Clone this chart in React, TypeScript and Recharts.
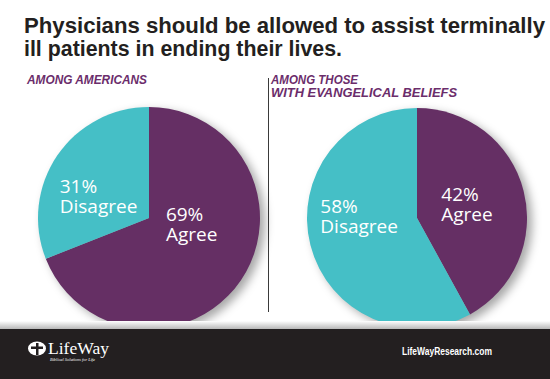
import React from "react";
import { PieChart, Pie, Cell } from "recharts";

const categories = ["Agree", "Disagree"];
const americans = [69, 31];
const evangelicals = [42, 58];

const COLORS = ["#652f64", "#45bfc6"];

const leftData = categories.map((name, i) => ({ name, value: americans[i] }));
const rightData = categories.map((name, i) => ({ name, value: evangelicals[i] }));

const RAD = Math.PI / 180;

const renderLabel = (props: any) => {
  const { cx, cy, midAngle, outerRadius, name, value } = props;
  const r = outerRadius * 0.5;
  const px = cx + r * Math.cos(-midAngle * RAD);
  const py = cy + r * Math.sin(-midAngle * RAD) * 0.45 - 11;
  const w = name.length * 9.6;
  const x = px - w / 2 - 5;
  return (
    <text
      x={x}
      y={py}
      fill="#fff"
      fontFamily="'Open Sans', sans-serif"
      fontSize={19}
      textAnchor="start"
    >
      <tspan x={x} dy={0}>{`${value}%`}</tspan>
      <tspan x={x} dy={20}>{name}</tspan>
    </text>
  );
};

export default function App() {
  return (
    <div
      style={{
        position: "relative",
        width: 550,
        height: 379,
        background: "#fff",
        overflow: "hidden",
      }}
    >
      <style>{`html, body { margin: 0; padding: 0; overflow: hidden; } .recharts-pie { filter: drop-shadow(5px 4px 5px rgba(0,0,0,0.35)); }`}</style>
      <svg
        width={550}
        height={110}
        style={{ position: "absolute", left: 0, top: 0 }}
        fontFamily="'Liberation Sans', Arial, sans-serif"
      >
        <text x={24} y={33} fontSize={22} fontWeight={700} fill="#231f20" textLength={521} lengthAdjust="spacingAndGlyphs">
          Physicians should be allowed to assist terminally
        </text>
        <text x={24} y={56} fontSize={22} fontWeight={700} fill="#231f20" textLength={318} lengthAdjust="spacingAndGlyphs">
          ill patients in ending their lives.
        </text>
        <text x={27} y={84} fontSize={12.5} fontWeight={700} fontStyle="italic" fill="#6b2d6b" textLength={120} lengthAdjust="spacingAndGlyphs">
          AMONG AMERICANS
        </text>
        <text x={271} y={84} fontSize={12.5} fontWeight={700} fontStyle="italic" fill="#6b2d6b" textLength={87} lengthAdjust="spacingAndGlyphs">
          AMONG THOSE
        </text>
        <text x={271} y={97} fontSize={12.5} fontWeight={700} fontStyle="italic" fill="#6b2d6b" textLength={186} lengthAdjust="spacingAndGlyphs">
          WITH EVANGELICAL BELIEFS
        </text>
      </svg>
      <div
        style={{
          position: "absolute",
          left: 268,
          top: 78,
          width: 1,
          height: 234,
          background: "#3a3a3a",
        }}
      />
      <div style={{ position: "absolute", left: 0, top: 0 }}>
        <PieChart width={550} height={379}>
          <Pie
            data={leftData}
            dataKey="value"
            nameKey="name"
            cx={144}
            cy={213}
            outerRadius={111}
            startAngle={90}
            endAngle={-270}
            stroke="none"
            label={renderLabel}
            labelLine={false}
            isAnimationActive={false}
          >
            {leftData.map((d, i) => (
              <Cell key={`l-${i}`} fill={COLORS[i]} />
            ))}
          </Pie>
          <Pie
            data={rightData}
            dataKey="value"
            nameKey="name"
            cx={412}
            cy={213}
            outerRadius={110}
            startAngle={90}
            endAngle={-270}
            stroke="none"
            label={renderLabel}
            labelLine={false}
            isAnimationActive={false}
          >
            {rightData.map((d, i) => (
              <Cell key={`r-${i}`} fill={COLORS[i]} />
            ))}
          </Pie>
        </PieChart>
      </div>
      <div
        style={{
          position: "absolute",
          left: 0,
          top: 321,
          width: 550,
          height: 8,
          background: "linear-gradient(#ffffff, #b8b8b8)",
        }}
      />
      <div
        style={{
          position: "absolute",
          left: 0,
          top: 329,
          width: 550,
          height: 50,
          background: "#231f20",
        }}
      >
        <svg width={550} height={50} style={{ position: "absolute", left: 0, top: 0 }}>
          <ellipse cx={37} cy={19.5} rx={9} ry={7} fill="#fff" />
          <rect x={36} y={14} width={2.5} height={12} fill="#231f20" />
          <rect x={31} y={17.5} width={12} height={2.5} fill="#231f20" />
          <text
            x={48}
            y={25}
            fill="#fff"
            fontFamily="'Liberation Serif', serif"
            fontSize={17.5}
            textLength={61}
            lengthAdjust="spacingAndGlyphs"
          >
            LifeWay
          </text>
          <text
            x={50}
            y={32}
            fill="#fff"
            fontFamily="'Liberation Serif', serif"
            fontSize={4.5}
            fontStyle="italic"
            textLength={45}
            lengthAdjust="spacingAndGlyphs"
          >
            Biblical Solutions for Life
          </text>
          <text
            x={402}
            y={26}
            fill="#fff"
            fontFamily="'Liberation Sans', Arial, sans-serif"
            fontSize={10.5}
            fontWeight={700}
            textLength={90}
            lengthAdjust="spacingAndGlyphs"
          >
            LifeWayResearch.com
          </text>
        </svg>
      </div>
    </div>
  );
}
